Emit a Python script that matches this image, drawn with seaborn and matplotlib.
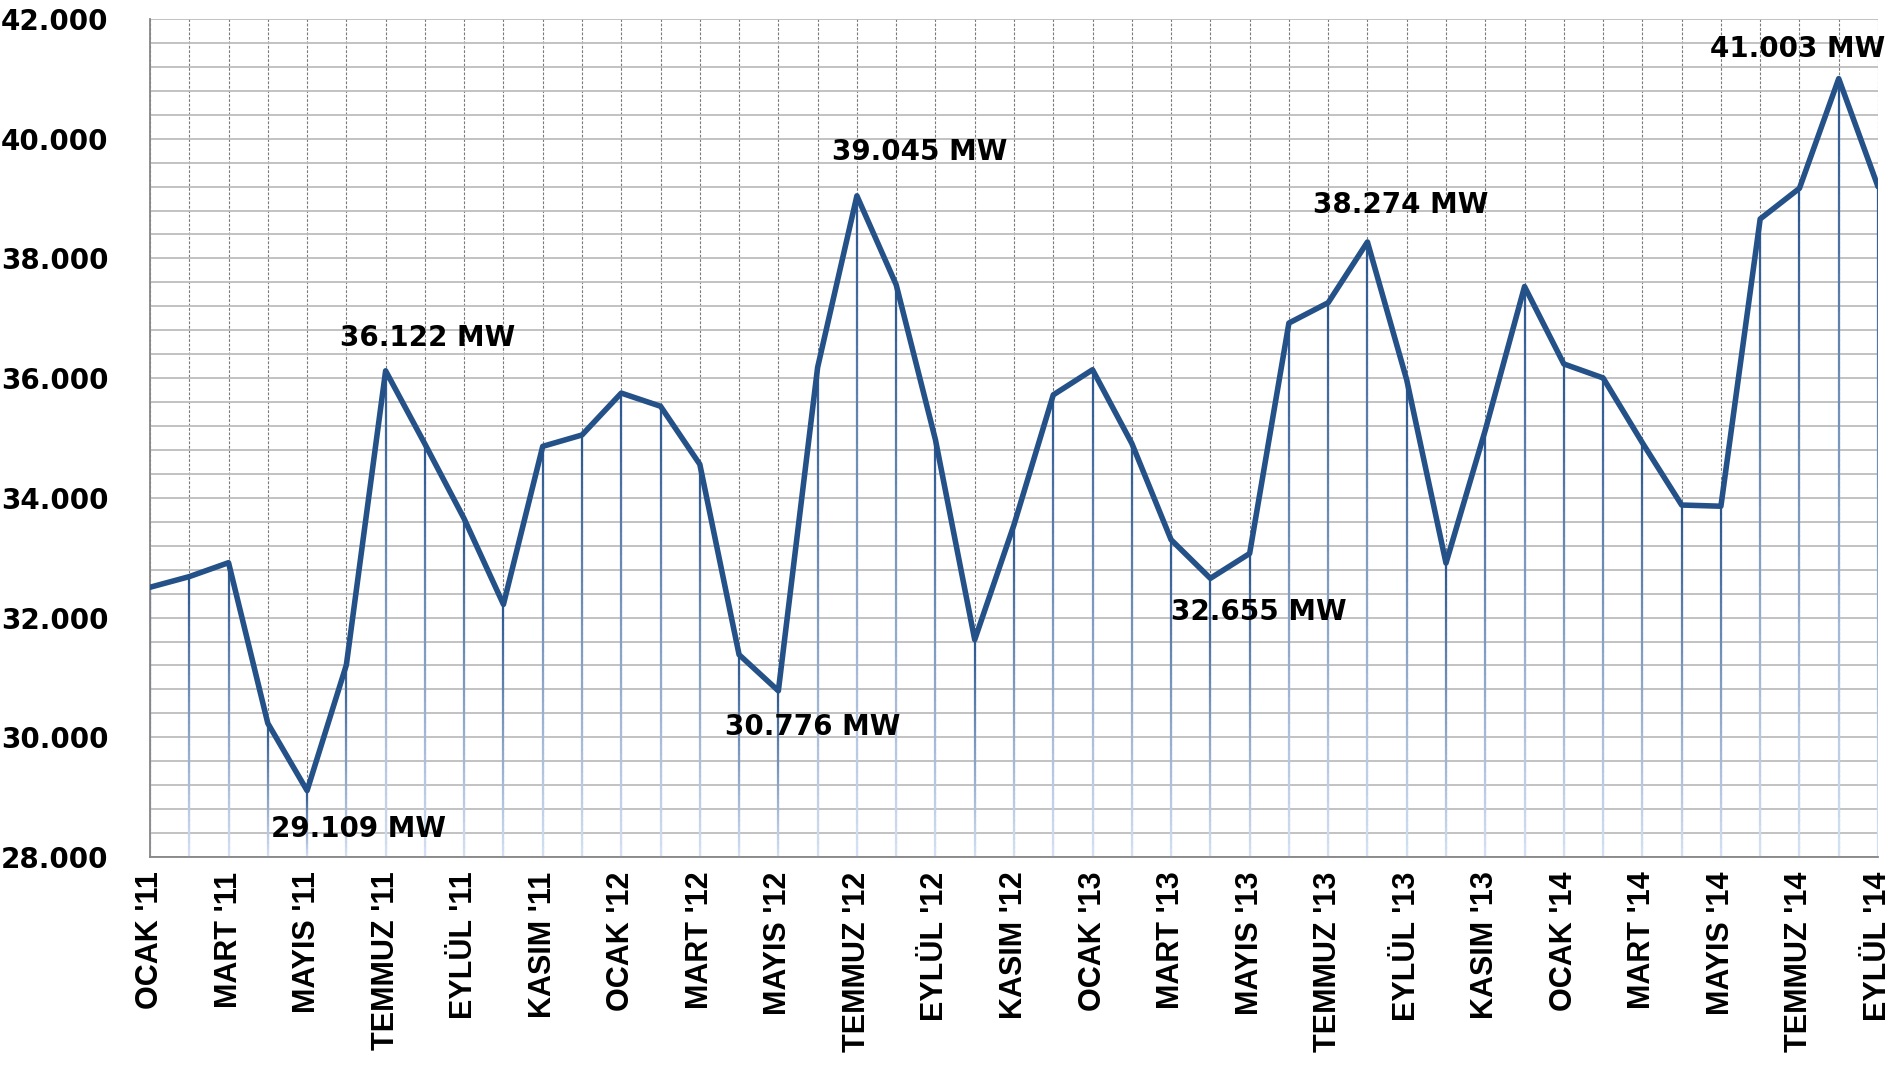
import matplotlib
matplotlib.use("Agg")
import matplotlib.pyplot as plt
import numpy as np
import pandas as pd
import seaborn as sns
from matplotlib import font_manager
from matplotlib.collections import LineCollection
from matplotlib.colors import to_rgb
from matplotlib.ticker import MultipleLocator

# monthly peak load, Jan 2011 - Sep 2014 (MW)
peak_mw = [32506, 32684, 32917, 30234, 29109, 31208, 36122, 34900, 33650, 32220,
           34860, 35050, 35750, 35530, 34560, 31380, 30776, 36180, 39045, 37560,
           34970, 31630, 33550, 35720, 36140, 34910, 33300, 32655, 33070, 36920,
           37260, 38274, 35970, 32910, 35130, 37530, 36237, 36003, 34920, 33880,
           33860, 38659, 39171, 41003, 39199]

# labels shown under every second month
shown_labels = ["OCAK '11", "MART '11", "MAYIS '11", "TEMMUZ '11", "EYLÜL '11", "KASIM '11",
                "OCAK '12", "MART '12", "MAYIS '12", "TEMMUZ '12", "EYLÜL '12", "KASIM '12",
                "OCAK '13", "MART '13", "MAYIS '13", "TEMMUZ '13", "EYLÜL '13", "KASIM '13",
                "OCAK '14", "MART '14", "MAYIS '14", "TEMMUZ '14", "EYLÜL '14"]

y_ticks = [28000, 30000, 32000, 34000, 36000, 38000, 40000, 42000]
y_tick_labels = ["28.000", "30.000", "32.000", "34.000", "36.000", "38.000", "40.000", "42.000"]

# annotated points: index, text
callouts = [(4, "29.109 MW"), (6, "36.122 MW"), (16, "30.776 MW"), (18, "39.045 MW"),
            (27, "32.655 MW"), (31, "38.274 MW"), (43, "41.003 MW")]
# label offsets in pixels from the point
callout_offsets = {4: (51, -38), 6: (42, 33), 16: (34, -36), 18: (63, 44),
                   27: (48, -34), 31: (33, 37), 43: (-41, 30)}

df = pd.DataFrame({"idx": np.arange(len(peak_mw)), "mw": peak_mw})

sns.set_theme(style="white")
plt.rcParams["font.family"] = ["DejaVu Sans"]

names = {f.name for f in font_manager.fontManager.ttflist}
if "Liberation Sans Narrow" in names:
    xfont, xsize = "Liberation Sans Narrow", 26.5
else:
    xfont, xsize = "Liberation Sans", 22

fig = plt.figure(figsize=(19.01, 10.65), dpi=100)
ax = fig.add_axes([0.0789, 0.1953, 0.909, 0.7869])

ymin, ymax = 28000, 42000
line_col = "#255189"

# gradient drop lines
dark = np.array(to_rgb("#2B578F"))
light = np.array(to_rgb("#D3DFF3"))
segs, cols = [], []
n = 40
for i, v in enumerate(peak_mw):
    ys = np.linspace(v, ymin, n + 1)
    for k in range(n):
        segs.append([(i, ys[k]), (i, ys[k + 1])])
        t = k / (n - 1)
        cols.append(dark * (1 - t) + light * t)
ax.add_collection(LineCollection(segs, colors=cols, linewidths=1.6, zorder=2,
                                 capstyle="butt"))

sns.lineplot(data=df, x="idx", y="mw", color=line_col, linewidth=4, ax=ax, zorder=4)

for i, txt in callouts:
    dx, dy = callout_offsets[i]
    ax.annotate(txt, (i, peak_mw[i]), xytext=(dx, dy), textcoords="offset pixels",
                ha="center", va="center", fontsize=20, fontweight="bold",
                color="black", zorder=5)

ax.set_xlim(0, len(peak_mw) - 1)
ax.set_ylim(ymin, ymax)

ax.set_yticks(y_ticks)
ax.set_yticklabels(y_tick_labels, fontsize=20, fontweight="bold", color="black")
ax.yaxis.set_minor_locator(MultipleLocator(400))

full_labels = []
for k in range(len(peak_mw)):
    full_labels.append(shown_labels[k // 2] if k % 2 == 0 else "")
ax.set_xticks(range(len(peak_mw)))
ax.set_xticklabels(full_labels, rotation=90, fontsize=xsize, fontweight="bold",
                   family=xfont, color="black", va="top", ha="center")

ax.grid(which="both", axis="y", color="#BDBDBD", linewidth=1.3, zorder=0)
ax.grid(which="major", axis="x", color="#7A7A7A", linewidth=0.8,
        linestyle=(0, (2.5, 1.5)), zorder=0)
ax.set_axisbelow(True)

ax.tick_params(axis="y", which="major", direction="out", length=12, width=1.2,
               color="#868686", pad=18)
ax.tick_params(axis="y", which="minor", length=0)
ax.tick_params(axis="x", which="major", direction="out", length=10, width=1.2,
               color="#868686", pad=0.5)

for s in ["top", "right"]:
    ax.spines[s].set_visible(False)
for s in ["left", "bottom"]:
    ax.spines[s].set_color("#868686")
    ax.spines[s].set_linewidth(1.3)

ax.set_xlabel("")
ax.set_ylabel("")

fig.savefig("out.png", dpi=100)
